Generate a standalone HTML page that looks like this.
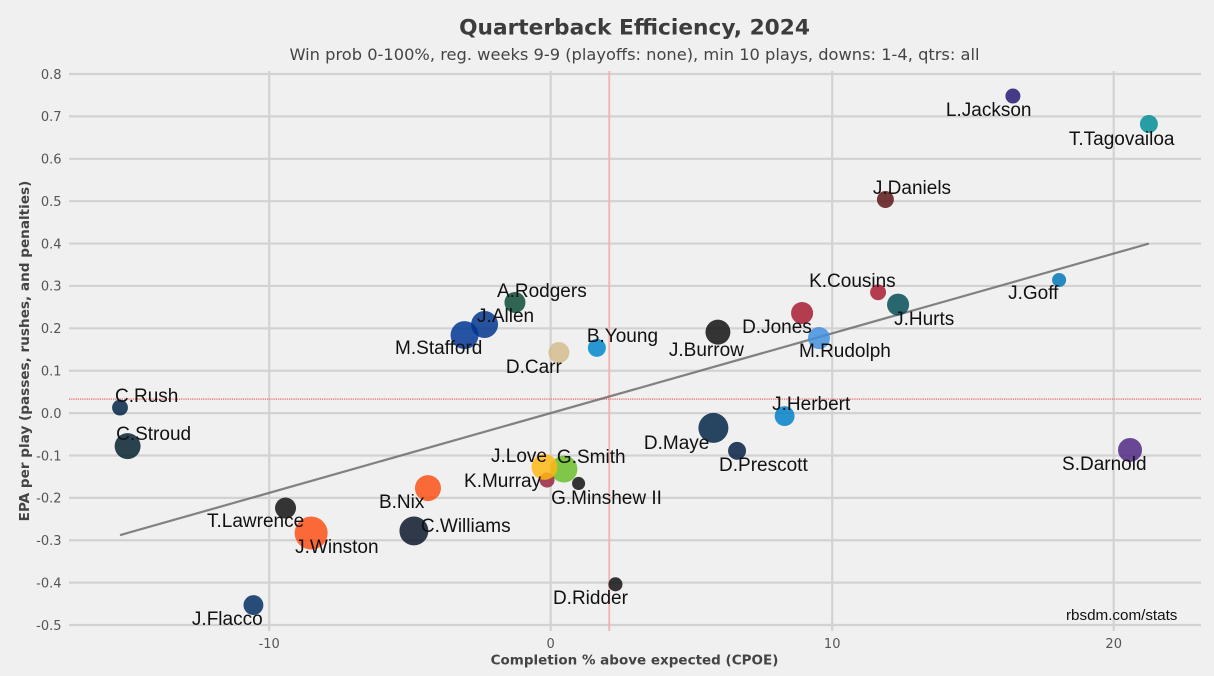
<!DOCTYPE html>
<html lang="en">
<head>
<meta charset="utf-8">
<title>Quarterback Efficiency, 2024</title>
<style>
html,body{margin:0;padding:0;background:#f0f0f0;}
svg{display:block;}
text{font-family:"DejaVu Sans",sans-serif;}
.tick{font-size:13px;fill:#555;}
.qb{font-family:"Liberation Sans",Arial,sans-serif;font-size:19px;fill:#111;}
</style>
</head>
<body>
<svg id="chart" width="1214" height="676" viewBox="0 0 1214 676" xmlns="http://www.w3.org/2000/svg">
  <rect width="1214" height="676" fill="#f0f0f0"/>
  <g id="grid"></g>
  <g id="refs"></g>
  <g id="trend"></g>
  <g id="points"></g>
  <g id="labels"></g>
  <g id="ticks"></g>
  <text x="634.5" y="34.5" text-anchor="middle" font-size="21.7" font-weight="bold" fill="#3c3c3c">Quarterback Efficiency, 2024</text>
  <text x="634.5" y="60" text-anchor="middle" font-size="16.25" fill="#444">Win prob 0-100%, reg. weeks 9-9 (playoffs: none), min 10 plays, downs: 1-4, qtrs: all</text>
  <text x="634.5" y="664.5" text-anchor="middle" font-size="13.5" font-weight="bold" fill="#444">Completion % above expected (CPOE)</text>
  <text transform="translate(29,351) rotate(-90)" text-anchor="middle" font-size="13.6" font-weight="bold" fill="#444">EPA per play (passes, rushes, and penalties)</text>
  <text x="1066" y="620" font-size="15.2" fill="#111" style="font-family:'Liberation Sans',Arial,sans-serif">rbsdm.com/stats</text>
</svg>
<script>
const players = ["L.Jackson","T.Tagovailoa","J.Daniels","K.Cousins","J.Hurts","J.Goff","D.Jones","M.Rudolph","J.Burrow","A.Rodgers","J.Allen","M.Stafford","B.Young","D.Carr","C.Rush","C.Stroud","J.Herbert","D.Maye","D.Prescott","S.Darnold","G.Smith","K.Murray","J.Love","G.Minshew II","B.Nix","T.Lawrence","J.Winston","C.Williams","D.Ridder","J.Flacco"];
const cpoe = [16.42,21.25,11.89,11.63,12.34,18.06,8.93,9.53,5.94,-1.27,-2.35,-3.06,1.64,0.29,-15.30,-15.03,8.31,5.78,6.62,20.58,0.47,-0.13,-0.22,0.99,-4.36,-9.42,-8.51,-4.86,2.30,-10.56];
const epa = [0.748,0.682,0.504,0.285,0.256,0.314,0.236,0.177,0.191,0.261,0.209,0.184,0.154,0.143,0.013,-0.078,-0.007,-0.035,-0.089,-0.087,-0.132,-0.158,-0.127,-0.166,-0.177,-0.224,-0.283,-0.278,-0.404,-0.453];
const plays = [25,36,32,28,54,22,54,54,69,49,81,87,36,49,28,75,44,100,36,64,81,25,75,19,75,49,121,93,22,44];
const xTickValues = [-10,0,10,20];
const xTickLabels = ["-10","0","10","20"];
const yTickValues = [0.8,0.7,0.6,0.5,0.4,0.3,0.2,0.1,0,-0.1,-0.2,-0.3,-0.4,-0.5];
const yTickLabels = ["0.8","0.7","0.6","0.5","0.4","0.3","0.2","0.1","0.0","-0.1","-0.2","-0.3","-0.4","-0.5"];
const meanCpoe = 2.08;
const meanEpa = 0.033;
const trendSlope = 0.01882;
const trendIntercept = 0;

/* styling and label layout, kept apart from the data */
const teamColors = {"L.Jackson":"#241773","T.Tagovailoa":"#008e97","J.Daniels":"#5a1414","K.Cousins":"#a71930","J.Hurts":"#004c54","J.Goff":"#0076b6","D.Jones":"#a71930","M.Rudolph":"#418fde","J.Burrow":"#101010","A.Rodgers":"#0c4a34","J.Allen":"#00338d","M.Stafford":"#003594","B.Young":"#0085ca","D.Carr":"#d3bc8d","C.Rush":"#002244","C.Stroud":"#03202f","J.Herbert":"#0080c6","D.Maye":"#002244","D.Prescott":"#041e42","S.Darnold":"#4f2683","G.Smith":"#69be28","K.Murray":"#97233f","J.Love":"#ffb612","G.Minshew II":"#101010","B.Nix":"#fb4f14","T.Lawrence":"#101010","J.Winston":"#fb4f14","C.Williams":"#0b162a","D.Ridder":"#101010","J.Flacco":"#002c5f"};
const labelNudges = {"L.Jackson":[-67,20],"T.Tagovailoa":[-80,21],"J.Daniels":[-12.5,-5.5],"K.Cousins":[-69,-5.5],"J.Hurts":[-4,20.5],"J.Goff":[-51,19],"D.Jones":[-60,20],"M.Rudolph":[-20,19],"J.Burrow":[-49,24],"A.Rodgers":[-18,-5.5],"J.Allen":[-7.5,-2.5],"M.Stafford":[-69.5,19],"B.Young":[-10,-6],"D.Carr":[-53,20.5],"C.Rush":[-5,-5.5],"C.Stroud":[-11.5,-6],"J.Herbert":[-12.5,-6],"D.Maye":[-69.5,21],"D.Prescott":[-18,20],"S.Darnold":[-68,20],"G.Smith":[-7,-6],"K.Murray":[-83,7],"J.Love":[-53.5,-5],"G.Minshew II":[-27.5,20.5],"B.Nix":[-49,20],"T.Lawrence":[-78.5,19],"J.Winston":[-16,20],"C.Williams":[7,1],"D.Ridder":[-62.5,19.5],"J.Flacco":[-61.5,20]};

const NS = "http://www.w3.org/2000/svg";
const xScale = v => 550.7 + 28.15 * v;
const yScale = v => 413.1 - 423.85 * v;
const radius = n => 1.5 * Math.sqrt(n);
function make(tag, parent, attrs, text) {
  const el = document.createElementNS(NS, tag);
  for (const k in attrs) el.setAttribute(k, attrs[k]);
  if (text !== undefined) el.textContent = text;
  document.getElementById(parent).appendChild(el);
  return el;
}

yTickValues.forEach((v, i) => {
  const line = make("line", "grid", {x1: 69, x2: 1201, y1: yScale(v), y2: yScale(v), stroke: "#d2d2d2", "stroke-width": 2.2});
  
  
  const label = make("text", "ticks", {class: "tick", x: 61.5, y: yScale(v) + 4.8, "text-anchor": "end"}, yTickLabels[i]);
  
  
});
xTickValues.forEach((v, i) => {
  const line = make("line", "grid", {x1: xScale(v), x2: xScale(v), y1: 71, y2: 631, stroke: "#d2d2d2", "stroke-width": 2.2});
  
  
  const label = make("text", "ticks", {class: "tick", x: xScale(v), y: 648, "text-anchor": "middle"}, xTickLabels[i]);
  
  
});

const meanV = make("line", "refs", {x1: xScale(meanCpoe), x2: xScale(meanCpoe), y1: 71, y2: 631, stroke: "#f5b0b0", "stroke-width": 1.8});


const meanH = make("line", "refs", {x1: 69, x2: 1201, y1: yScale(meanEpa), y2: yScale(meanEpa), stroke: "#f08a8a", "stroke-width": 1.8, "stroke-dasharray": "1.2 1"});



const xMin = Math.min(...cpoe);
const xMax = Math.max(...cpoe);
const trendLine = make("line", "trend", {
  x1: xScale(xMin), y1: yScale(trendIntercept + trendSlope * xMin),
  x2: xScale(xMax), y2: yScale(trendIntercept + trendSlope * xMax),
  stroke: "#6e6e6e", "stroke-width": 2.2, opacity: 0.85
});



players.forEach((p, i) => {
  const dot = make("circle", "points", {cx: xScale(cpoe[i]), cy: yScale(epa[i]), r: radius(plays[i]), fill: teamColors[p], "fill-opacity": 0.84});
  
  
  const nudge = labelNudges[p];
  const tag = make("text", "labels", {class: "qb", x: xScale(cpoe[i]) + nudge[0], y: yScale(epa[i]) + nudge[1]}, p);
  
  
});
</script>
</body>
</html>
